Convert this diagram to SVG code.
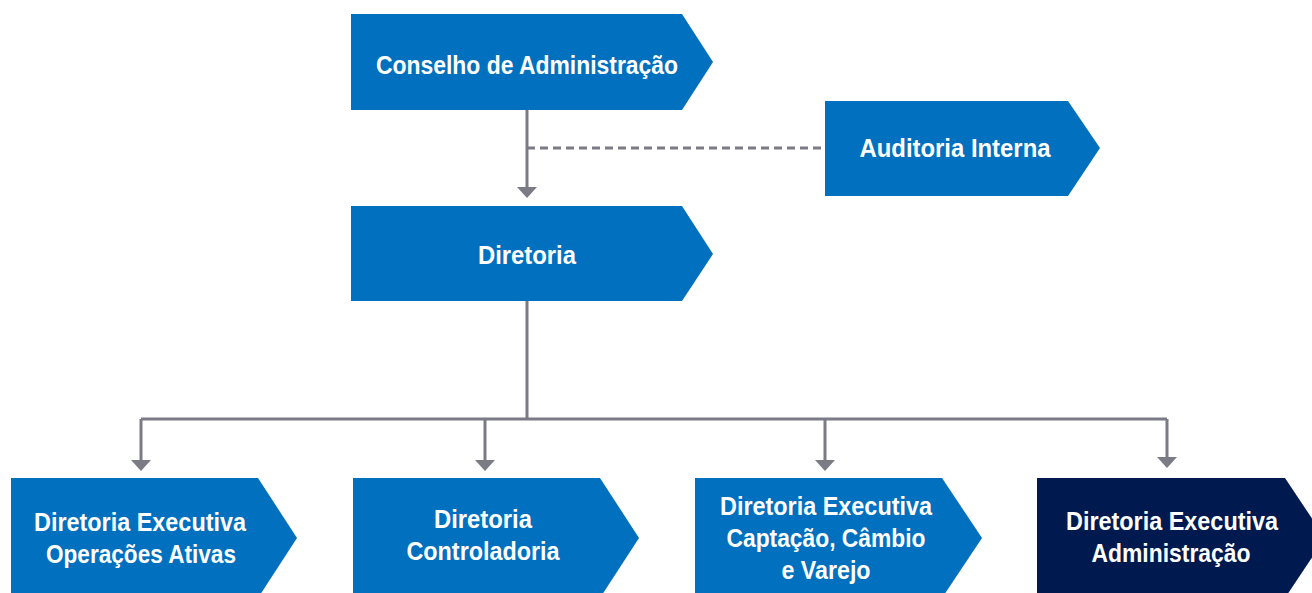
<svg xmlns="http://www.w3.org/2000/svg" width="1312" height="593" viewBox="0 0 1312 593">
<style>
.box{fill:#0070bf}
.dark{fill:#001a50}
.t{font-family:"Liberation Sans",Arial,sans-serif;font-weight:bold;font-size:25px;fill:#ffffff;text-anchor:middle}
.ln{stroke:#7b7b85;stroke-width:3;fill:none}
.ah{fill:#7b7b85}
</style>
<rect width="1312" height="593" fill="#ffffff"/>
<g id="connectors">
<path class="ln" d="M527 110 V188"/>
<polygon class="ah" points="517,187 537,187 527,198"/>
<path class="ln" d="M527 148 H825" stroke-dasharray="8 5"/>
<path class="ln" d="M527 301 V419 M141 419 H1167 M141 419 V461 M485 419 V461 M825 419 V461 M1167 419 V458"/>
<polygon class="ah" points="131,460 151,460 141,471"/>
<polygon class="ah" points="475,460 495,460 485,471"/>
<polygon class="ah" points="815,460 835,460 825,471"/>
<polygon class="ah" points="1157,457 1177,457 1167,468"/>
</g>
<g id="conselho">
<polygon class="box" points="351,14 682,14 713,62 682,110 351,110"/>
<text class="t" x="527" y="74" textLength="302" lengthAdjust="spacingAndGlyphs">Conselho de Administração</text>
</g>
<g id="auditoria">
<polygon class="box" points="825,101 1068,101 1100,148 1068,196 825,196"/>
<text class="t" x="955" y="157" textLength="191" lengthAdjust="spacingAndGlyphs">Auditoria Interna</text>
</g>
<g id="diretoria">
<polygon class="box" points="351,206 682,206 713,254 682,301 351,301"/>
<text class="t" x="527" y="264" textLength="98" lengthAdjust="spacingAndGlyphs">Diretoria</text>
</g>
<g id="operacoes">
<polygon class="box" points="11,478 258,478 297,538 258,598 11,598"/>
<text class="t" x="140" y="531" textLength="212" lengthAdjust="spacingAndGlyphs">Diretoria Executiva</text>
<text class="t" x="141" y="563" textLength="190" lengthAdjust="spacingAndGlyphs">Operações Ativas</text>
</g>
<g id="controladoria">
<polygon class="box" points="353,478 600,478 639,538 600,598 353,598"/>
<text class="t" x="483" y="528" textLength="98" lengthAdjust="spacingAndGlyphs">Diretoria</text>
<text class="t" x="483" y="560" textLength="153" lengthAdjust="spacingAndGlyphs">Controladoria</text>
</g>
<g id="captacao">
<polygon class="box" points="695,478 942,478 982,538 942,598 695,598"/>
<text class="t" x="826" y="515" textLength="212" lengthAdjust="spacingAndGlyphs">Diretoria Executiva</text>
<text class="t" x="826" y="547" textLength="199" lengthAdjust="spacingAndGlyphs">Captação, Câmbio</text>
<text class="t" x="826" y="579" textLength="89" lengthAdjust="spacingAndGlyphs">e Varejo</text>
</g>
<g id="administracao">
<polygon class="dark" points="1037,478 1285,478 1325,538 1285,598 1037,598"/>
<text class="t" x="1172" y="530" textLength="212" lengthAdjust="spacingAndGlyphs">Diretoria Executiva</text>
<text class="t" x="1171" y="562" textLength="159" lengthAdjust="spacingAndGlyphs">Administração</text>
</g>
</svg>
